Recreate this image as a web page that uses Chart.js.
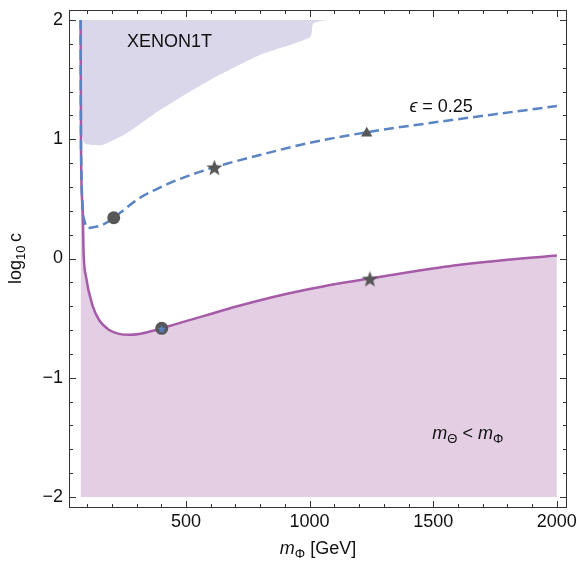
<!DOCTYPE html>
<html>
<head>
<meta charset="utf-8">
<script src="https://cdn.jsdelivr.net/npm/chart.js@4.4.1/dist/chart.umd.min.js"></script>
<style>
  html, body { margin: 0; padding: 0; background: #fff; }
</style>
</head>
<body>
<canvas id="chart" width="577" height="565"></canvas>
<script>
// tick labels
const xTickVals = [500, 1000, 1500, 2000];
const yTickVals = [-2, -1, 0, 1, 2];

// XENON1T excluded region (lower edge, filled up to log10 c = 2)
const xenonX = [76, 77, 80, 92, 119, 166, 260, 395, 597, 799, 1002, 1015, 1069];
const xenonY = [2.0, 1.3, 1.03, 0.962, 0.952, 0.955, 1.05, 1.245, 1.497, 1.707, 1.855, 1.972, 2.0];

// m_Theta < m_Phi boundary (purple, filled down to -2)
const purpleX = [74, 75.6, 82, 86, 96, 123, 150, 190, 229, 270, 310, 350, 402, 500, 600, 700, 800, 900, 1000, 1100, 1250, 1400, 1600, 1800, 2000];
const purpleY = [2.0, 0.91, 0.43, 0.05, -0.155, -0.40, -0.52, -0.60, -0.632, -0.64, -0.633, -0.615, -0.585, -0.525, -0.465, -0.405, -0.35, -0.30, -0.255, -0.215, -0.165, -0.115, -0.055, -0.01, 0.025];

// epsilon = 0.25 curve (blue dashed)
const blueX = [74, 75.6, 89, 102, 136, 170, 208, 250, 290, 327, 400, 464, 615, 799, 1000, 1250, 1500, 1750, 2000];
const blueY = [2.0, 0.91, 0.32, 0.256, 0.266, 0.29, 0.342, 0.41, 0.475, 0.525, 0.60, 0.658, 0.765, 0.868, 0.97, 1.065, 1.14, 1.21, 1.279];

// benchmark points
const circlePts = [[208, 0.342], [402, -0.585]];
const starPts = [[615, 0.765], [1244, -0.169]];
const trianglePts = [[1231, 1.05]];
const smallStarPts = [[402, -0.585]];

const FONT = "'Liberation Sans', Arial, sans-serif";
const markGray = '#575757';

function pts(xs, ys) { return xs.map((x, i) => ({ x: x, y: ys[i] })); }
function pairs(p) { return p.map(a => ({ x: a[0], y: a[1] })); }

function starCanvas(r, color) {
  const c = document.createElement('canvas');
  const s = Math.ceil(r * 2) + 2;
  c.width = s; c.height = s;
  const g = c.getContext('2d');
  g.fillStyle = color;
  g.beginPath();
  for (let i = 0; i < 10; i++) {
    const rr = i % 2 ? r * 0.42 : r;
    const a = -Math.PI / 2 + i * Math.PI / 5;
    g.lineTo(s / 2 + rr * Math.cos(a), s / 2 + 1 + rr * Math.sin(a));
  }
  g.closePath();
  g.fill();
  return c;
}

// draw a run of text pieces (for sub/italic parts)
function drawRuns(ctx, runs, x, y, align) {
  let w = 0;
  runs.forEach(r => { ctx.font = r.font; r.w = ctx.measureText(r.t).width; w += r.w; });
  let cx = align === 'center' ? x - w / 2 : x;
  ctx.textBaseline = 'alphabetic';
  ctx.textAlign = 'left';
  runs.forEach(r => {
    ctx.font = r.font;
    ctx.fillText(r.t, cx, y + (r.dy || 0));
    cx += r.w;
  });
}

const frame = {
  id: 'frame',
  afterDraw(chart) {
    const { ctx, chartArea: a, scales: { x, y } } = chart;
    ctx.save();
    ctx.strokeStyle = '#333';
    ctx.lineWidth = 1;
    ctx.strokeRect(a.left + 0.5, a.top + 0.5, a.right - a.left - 1, a.bottom - a.top - 1);
    ctx.beginPath();
    for (let v = 100; v <= 2000; v += 100) {
      const px = Math.round(x.getPixelForValue(v)) + 0.5;
      const len = v % 500 === 0 ? 7 : 4;
      ctx.moveTo(px, a.bottom); ctx.lineTo(px, a.bottom - len);
      ctx.moveTo(px, a.top); ctx.lineTo(px, a.top + len);
    }
    for (let k = -10; k <= 10; k++) {
      const v = k / 5;
      const py = Math.round(y.getPixelForValue(v)) + 0.5;
      const len = k % 5 === 0 ? 7 : 4;
      ctx.moveTo(a.left, py); ctx.lineTo(a.left + len, py);
      ctx.moveTo(a.right, py); ctx.lineTo(a.right - len, py);
    }
    ctx.stroke();

    // labels
    ctx.fillStyle = '#111';
    const big = '18px ' + FONT, it = 'italic 18px ' + FONT, sub = '13px ' + FONT;
    drawRuns(ctx, [{ t: 'XENON1T', font: big }], x.getPixelForValue(433), 47, 'center');
    drawRuns(ctx, [{ t: '\u03F5', font: it }, { t: ' = 0.25', font: big }], x.getPixelForValue(1532), 112, 'center');
    drawRuns(ctx, [{ t: 'm', font: it }, { t: '\u0398', font: sub, dy: 4 }, { t: ' < ', font: big },
      { t: 'm', font: it }, { t: '\u03A6', font: sub, dy: 4 }], x.getPixelForValue(1640), 439, 'center');
    drawRuns(ctx, [{ t: 'm', font: it }, { t: '\u03A6', font: sub, dy: 4 }, { t: ' [GeV]', font: big }],
      318, 554, 'center');
    ctx.save();
    ctx.translate(21, y.getPixelForValue(0));
    ctx.rotate(-Math.PI / 2);
    drawRuns(ctx, [{ t: 'log', font: big }, { t: '10', font: sub, dy: 4 }, { t: '\u2009c', font: big }], 0, 0, 'center');
    ctx.restore();
    ctx.restore();
  }
};

const minus = v => (v < 0 ? '\u2212' + Math.abs(v) : '' + v);

new Chart(document.getElementById('chart'), {
  type: 'line',
  data: {
    datasets: [
      {
        data: pairs(smallStarPts), showLine: false, order: 0,
        pointStyle: starCanvas(4.5, '#5a82c2'), pointRadius: 5
      },
      {
        data: pairs(circlePts), showLine: false, order: 1,
        pointStyle: 'circle', pointRadius: 6.5, pointBackgroundColor: markGray, pointBorderWidth: 0
      },
      {
        data: pairs(starPts), showLine: false, order: 1,
        pointStyle: starCanvas(8.5, markGray), pointRadius: 8
      },
      {
        data: pairs(trianglePts), showLine: false, order: 1,
        pointStyle: 'triangle', pointRadius: 6.5, pointBackgroundColor: markGray, pointBorderWidth: 0
      },
      {
        data: pts(blueX, blueY), order: 3,
        borderColor: '#5b84c4', borderWidth: 2.5, borderDash: [10, 5],
        pointRadius: 0, fill: false, cubicInterpolationMode: 'monotone'
      },
      {
        data: pts(purpleX, purpleY), order: 4,
        borderColor: '#a55ba8', borderWidth: 2.5, backgroundColor: '#e3cee4',
        pointRadius: 0, fill: { value: -2 }, cubicInterpolationMode: 'monotone'
      },
      {
        data: pts(xenonX, xenonY), order: 5,
        borderWidth: 0, borderColor: 'rgba(0,0,0,0)', backgroundColor: '#dbd7ea',
        pointRadius: 0, fill: { value: 2 }, tension: 0.2
      }
    ]
  },
  options: {
    responsive: false,
    animation: false,
    layout: { padding: { top: 10, right: 10, left: 0, bottom: 0 } },
    plugins: { legend: { display: false }, tooltip: { enabled: false } },
    scales: {
      x: {
        type: 'linear', min: 27, max: 2041,
        afterBuildTicks: s => { s.ticks = xTickVals.map(v => ({ value: v })); },
        afterFit: s => { s.height = 57; s.paddingLeft = 0; s.paddingRight = 0; },
        grid: { display: false, drawTicks: false },
        border: { display: false },
        ticks: { font: { family: FONT, size: 18 }, color: '#111', padding: 3, maxRotation: 0, autoSkip: false, callback: minus }
      },
      y: {
        type: 'linear', min: -2.092, max: 2.084,
        afterBuildTicks: s => { s.ticks = yTickVals.map(v => ({ value: v })); },
        afterFit: s => { s.width = 69; s.paddingTop = 0; s.paddingBottom = 0; },
        grid: { display: false, drawTicks: false },
        border: { display: false },
        ticks: { font: { family: FONT, size: 18 }, color: '#111', padding: 6, autoSkip: false, callback: minus }
      }
    }
  },
  plugins: [frame]
});
</script>
</body>
</html>
